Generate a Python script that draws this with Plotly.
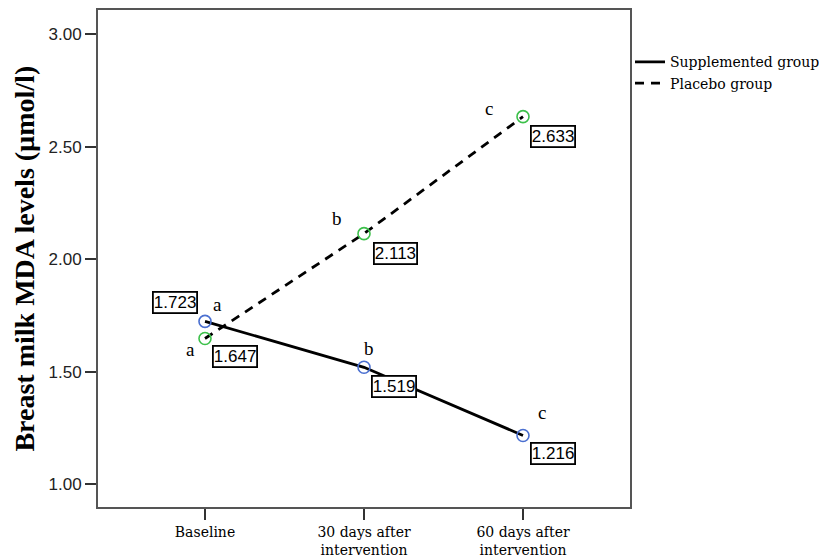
import plotly.graph_objects as go

categories = ["Baseline", "30 days after<br>intervention", "60 days after<br>intervention"]
supplemented = [1.723, 1.519, 1.216]
placebo = [1.647, 2.113, 2.633]
supp_letters = ["a", "b", "c"]
plac_letters = ["a", "b", "c"]
y_ticks = [1.00, 1.50, 2.00, 2.50, 3.00]

x = [0, 1, 2]

fig = go.Figure()
fig.add_trace(go.Scatter(
    x=x, y=supplemented, mode="lines", name="Supplemented group",
    line=dict(color="black", width=2.8, dash="solid"), showlegend=True))
fig.add_trace(go.Scatter(
    x=x, y=placebo, mode="lines", name="Placebo group",
    line=dict(color="black", width=2.8, dash="9px,7px"), showlegend=True))
fig.add_trace(go.Scatter(
    x=x, y=supplemented, mode="markers", showlegend=False,
    marker=dict(symbol="circle-open", size=12, color="#4a6fd0", line=dict(width=1.6))))
fig.add_trace(go.Scatter(
    x=x, y=placebo, mode="markers", showlegend=False,
    marker=dict(symbol="circle-open", size=12, color="#3cc04a", line=dict(width=1.6))))

box_font = dict(family="Liberation Sans, Arial, sans-serif", size=17, color="black")
letter_font = dict(family="Liberation Serif, Times New Roman, serif", size=19, color="black")

# value boxes (pixel offsets of box centre from the point)
supp_offsets = [(-30, -19), (30, 19), (30, 18)]
plac_offsets = [(30, 18), (31, 20), (30, 20)]
for i in range(3):
    for vals, offs in ((supplemented, supp_offsets), (placebo, plac_offsets)):
        fig.add_annotation(x=x[i], y=vals[i], text=f"{vals[i]:.3f}", showarrow=True,
                           arrowcolor="rgba(0,0,0,0)", ax=offs[i][0], ay=offs[i][1],
                           font=box_font, bordercolor="black", borderwidth=1.8,
                           borderpad=0, bgcolor="white")

supp_letter_offsets = [(12, -17), (5, -19), (19, -23)]
plac_letter_offsets = [(-15, 11), (-27, -15), (-34, -8)]
for i in range(3):
    fig.add_annotation(x=x[i], y=supplemented[i], text=supp_letters[i], showarrow=True,
                       arrowcolor="rgba(0,0,0,0)", ax=supp_letter_offsets[i][0],
                       ay=supp_letter_offsets[i][1], font=letter_font)
    fig.add_annotation(x=x[i], y=placebo[i], text=plac_letters[i], showarrow=True,
                       arrowcolor="rgba(0,0,0,0)", ax=plac_letter_offsets[i][0],
                       ay=plac_letter_offsets[i][1], font=letter_font)

# y axis title
fig.add_annotation(xref="paper", yref="paper", x=-0.139, y=0.5, xanchor="center",
                   yanchor="middle", textangle=-90, showarrow=False,
                   text="<b>Breast milk MDA levels (µmol/l)</b>",
                   font=dict(family="Liberation Serif, Times New Roman, serif", size=28,
                             color="black"))

# the page body has an 8px margin, so the figure is sized to fit the window
fig.update_layout(
    width=819, height=550,
    margin=dict(l=90, r=197, t=2, b=51),
    plot_bgcolor="white", paper_bgcolor="white",
    legend=dict(x=1.0, xanchor="left", y=0.927, yanchor="top",
                font=dict(family="DejaVu Serif, serif", size=14, color="black"),
                tracegroupgap=0, itemwidth=30, bgcolor="rgba(0,0,0,0)"),
    xaxis=dict(range=[-0.673, 2.673], tickmode="array", tickvals=x, ticktext=categories,
               automargin=False,
               showgrid=False, zeroline=False, showline=True, linecolor="#555", linewidth=2,
               mirror=True, ticks="outside", ticklen=11, tickwidth=2, tickcolor="#333",
               tickfont=dict(family="DejaVu Serif, serif", size=14, color="black")),
    yaxis=dict(range=[0.898, 3.107], tickmode="array", tickvals=y_ticks,
               ticktext=[f"{v:.2f}" for v in y_ticks], automargin=False,
               showgrid=False, zeroline=False, showline=True, linecolor="#555", linewidth=2,
               mirror=True, ticks="outside", ticklen=11, tickwidth=2, tickcolor="#333",
               tickfont=dict(family="Liberation Sans, Arial, sans-serif", size=17, color="#222")),
)

fig.write_html("out.html")
